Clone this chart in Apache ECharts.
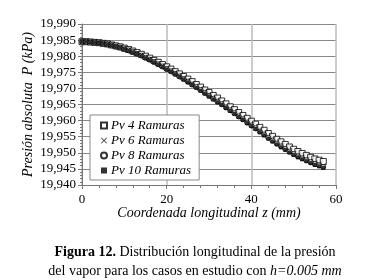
<!DOCTYPE html>
<html>
<head>
<meta charset="utf-8">
<script src="https://cdn.jsdelivr.net/npm/echarts@6/dist/echarts.min.js"></script>
<style>
  html, body { margin: 0; padding: 0; background: #fff; }
  #main { width: 380px; height: 280px; }
</style>
</head>
<body>
<div id="main"></div>
<script>
// coordenada longitudinal z (mm)
const zValues = [0, 1, 2, 3, 4, 5, 6, 7, 8, 9, 10, 11, 12, 13, 14, 15, 16, 17, 18, 19,
  20, 21, 22, 23, 24, 25, 26, 27, 28, 29, 30, 31, 32, 33, 34, 35, 36, 37, 38, 39,
  40, 41, 42, 43, 44, 45, 46, 47, 48, 49, 50, 51, 52, 53, 54, 55, 56, 57]

// presion absoluta P (kPa)
const pv4 = [19.9845, 19.9845, 19.9844, 19.9843, 19.9842, 19.9840, 19.9838, 19.9835, 19.9832, 19.9829,
  19.9825, 19.9821, 19.9816, 19.9811, 19.9806, 19.9800, 19.9794, 19.9787, 19.9781, 19.9774,
  19.9767, 19.9760, 19.9752, 19.9745, 19.9737, 19.9729, 19.9721, 19.9712, 19.9704, 19.9695,
  19.9687, 19.9678, 19.9670, 19.9661, 19.9652, 19.9643, 19.9634, 19.9625, 19.9616, 19.9607,
  19.9598, 19.9589, 19.9579, 19.9570, 19.9560, 19.9551, 19.9542, 19.9534, 19.9526, 19.9518,
  19.9511, 19.9504, 19.9498, 19.9492, 19.9486, 19.9481, 19.9477, 19.9473]
const pv6 = [19.9845, 19.9845, 19.9844, 19.9843, 19.9841, 19.9839, 19.9837, 19.9834, 19.9831, 19.9828,
  19.9823, 19.9819, 19.9814, 19.9808, 19.9803, 19.9796, 19.9790, 19.9783, 19.9776, 19.9769,
  19.9762, 19.9755, 19.9747, 19.9739, 19.9731, 19.9723, 19.9714, 19.9706, 19.9697, 19.9688,
  19.9679, 19.9670, 19.9662, 19.9653, 19.9644, 19.9635, 19.9625, 19.9616, 19.9607, 19.9597,
  19.9588, 19.9579, 19.9569, 19.9560, 19.9550, 19.9541, 19.9532, 19.9523, 19.9515, 19.9507,
  19.9499, 19.9492, 19.9486, 19.9480, 19.9474, 19.9469, 19.9465, 19.9460]
const pv8 = [19.9845, 19.9845, 19.9844, 19.9843, 19.9841, 19.9839, 19.9837, 19.9834, 19.9830, 19.9827,
  19.9822, 19.9818, 19.9813, 19.9807, 19.9802, 19.9795, 19.9789, 19.9782, 19.9775, 19.9768,
  19.9760, 19.9753, 19.9745, 19.9737, 19.9729, 19.9721, 19.9712, 19.9704, 19.9695, 19.9686,
  19.9677, 19.9668, 19.9659, 19.9651, 19.9641, 19.9632, 19.9623, 19.9613, 19.9604, 19.9594,
  19.9585, 19.9576, 19.9566, 19.9557, 19.9547, 19.9538, 19.9529, 19.9520, 19.9512, 19.9504,
  19.9496, 19.9489, 19.9483, 19.9477, 19.9471, 19.9465, 19.9461, 19.9456]
const pv10 = [19.9845, 19.9845, 19.9844, 19.9843, 19.9841, 19.9839, 19.9837, 19.9834, 19.9830, 19.9827,
  19.9822, 19.9817, 19.9812, 19.9807, 19.9801, 19.9794, 19.9788, 19.9781, 19.9774, 19.9767,
  19.9759, 19.9752, 19.9744, 19.9736, 19.9728, 19.9719, 19.9711, 19.9702, 19.9693, 19.9684,
  19.9675, 19.9666, 19.9657, 19.9649, 19.9639, 19.9630, 19.9621, 19.9611, 19.9602, 19.9592,
  19.9583, 19.9574, 19.9564, 19.9554, 19.9544, 19.9535, 19.9526, 19.9517, 19.9509, 19.9501,
  19.9493, 19.9486, 19.9480, 19.9474, 19.9468, 19.9462, 19.9458, 19.9453]

const seriesNames = ['Pv 4 Ramuras', 'Pv 6 Ramuras', 'Pv 8 Ramuras', 'Pv 10 Ramuras']

const serif = '"Liberation Serif", serif'
const crossPath = 'path://M0,1L1,0L5,4L9,0L10,1L6,5L10,9L9,10L5,6L1,10L0,9L4,5Z'

const toPairs = (vals) => vals.map((v, i) => [zValues[i], v])

var myChart = echarts.init(document.getElementById('main'))

myChart.setOption({
  animation: false,
  textStyle: { fontFamily: serif, color: '#000' },
  title: {
    left: 190,
    top: 238,
    textAlign: 'center',
    text: '{b|Figura 12.} {n|Distribución longitudinal de la presión}\n{n|del vapor para los casos en estudio con }{i|h=0.005 mm}',
    textStyle: {
      fontWeight: 'normal',
      fontFamily: serif,
      fontSize: 14,
      lineHeight: 19,
      rich: {
        b: { fontFamily: serif, fontWeight: 'bold', fontSize: 14, color: '#000', lineHeight: 19 },
        n: { fontFamily: serif, fontWeight: 'normal', fontSize: 14, color: '#000', lineHeight: 19 },
        i: { fontFamily: serif, fontWeight: 'normal', fontStyle: 'italic', fontSize: 14, color: '#000', lineHeight: 19 }
      }
    }
  },
  grid: { left: 82, right: 44, top: 24, bottom: 95 },
  legend: {
    orient: 'vertical',
    left: 90,
    top: 115,
    data: seriesNames,
    backgroundColor: '#fff',
    borderColor: '#888',
    borderWidth: 1,
    padding: [4, 8, 3, 10],
    itemGap: 2,
    itemWidth: 6,
    itemHeight: 6,
    textStyle: { fontFamily: serif, fontStyle: 'italic', fontSize: 13, color: '#000', lineHeight: 13, padding: [0, 0, 0, -1] }
  },
  xAxis: {
    type: 'value',
    min: 0,
    max: 60,
    interval: 20,
    name: 'Coordenada longitudinal z (mm)',
    nameLocation: 'middle',
    nameGap: 21,
    nameMoveOverlap: false,
    nameTextStyle: { fontFamily: serif, fontStyle: 'italic', fontSize: 14, color: '#000' },
    axisLine: { lineStyle: { color: '#777', width: 1 } },
    axisTick: { show: true, length: 4, lineStyle: { color: '#777' } },
    minorTick: { show: true, splitNumber: 5, length: 3, lineStyle: { color: '#777' } },
    axisLabel: { fontFamily: serif, fontSize: 13, color: '#000', margin: 8 },
    splitLine: { show: true, lineStyle: { color: '#bbb', width: 1.5 } }
  },
  yAxis: {
    type: 'value',
    min: 19.94,
    max: 19.99,
    interval: 0.005,
    name: 'Presión absoluta  P (kPa)',
    nameLocation: 'middle',
    nameGap: 47,
    nameMoveOverlap: false,
    nameTextStyle: { fontFamily: serif, fontStyle: 'italic', fontSize: 14, color: '#000' },
    axisLine: { show: true, lineStyle: { color: '#777', width: 1 } },
    axisTick: { show: true, length: 4, lineStyle: { color: '#777' } },
    minorTick: { show: true, splitNumber: 5, length: 2, lineStyle: { color: '#777' } },
    axisLabel: {
      fontFamily: serif,
      fontSize: 13,
      color: '#000',
      margin: 6,
      formatter: (v) => v.toFixed(3).replace('.', ',')
    },
    splitLine: { show: true, lineStyle: { color: '#888', width: 1 } }
  },
  series: [
    {
      name: seriesNames[0],
      type: 'scatter',
      symbol: 'rect',
      symbolSize: 6,
      itemStyle: { color: '#fff', borderColor: '#000', borderWidth: 1 },
      data: toPairs(pv4)
    },
    {
      name: seriesNames[1],
      type: 'scatter',
      symbol: crossPath,
      symbolSize: 5,
      itemStyle: { color: '#000' },
      data: toPairs(pv6)
    },
    {
      name: seriesNames[2],
      type: 'scatter',
      symbol: 'circle',
      symbolSize: 5,
      itemStyle: { color: '#fff', borderColor: '#000', borderWidth: 1 },
      data: toPairs(pv8)
    },
    {
      name: seriesNames[3],
      type: 'scatter',
      symbol: 'rect',
      symbolSize: 4,
      itemStyle: { color: '#000' },
      data: toPairs(pv10)
    }
  ]
})
</script>
</body>
</html>
